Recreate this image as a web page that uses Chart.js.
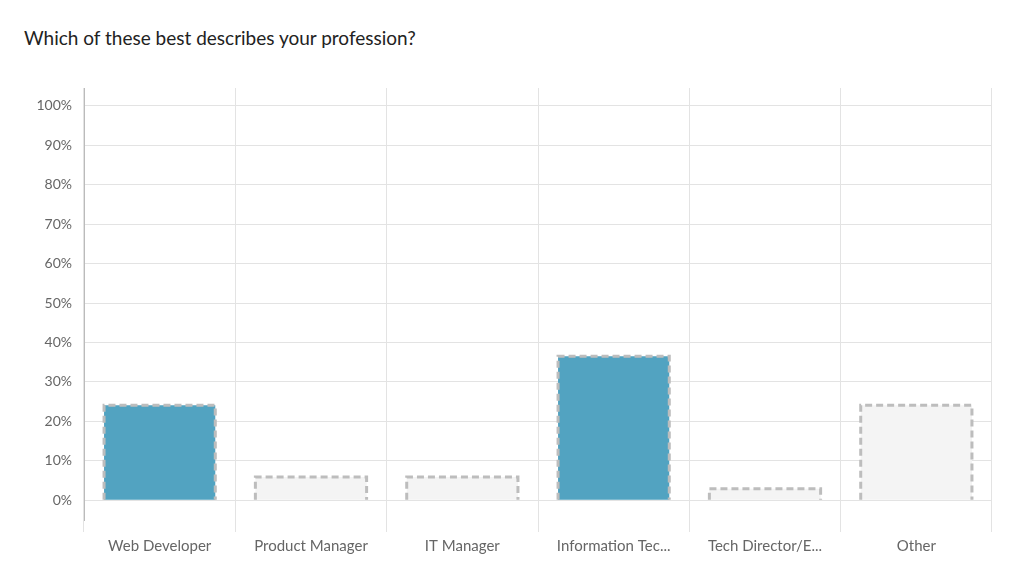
<!DOCTYPE html>
<html><head><meta charset="utf-8">
<script src="https://cdn.jsdelivr.net/npm/chart.js@4"></script>
<style>html,body{margin:0;background:#fff;}#w{position:relative;width:1024px;height:572px;}
#t{position:absolute;left:24px;top:26px;font:19px Lato,"Open Sans",sans-serif;color:#222;}
canvas{position:absolute;left:0;top:0;}</style></head>
<body><div id="w"><div id="t">Which of these best describes your profession?</div><canvas id="c" width="1024" height="572"></canvas></div>
<script>
const categories=["Web Developer","Product Manager","IT Manager","Information Tec...","Tech Director/E...","Other"];
const values=[24.1,5.9,5.9,36.5,2.9,24.1];
const highlighted=[true,false,false,true,false,false];
const dashPlugin={id:'dash',afterDatasetsDraw(chart){
  const ctx=chart.ctx;ctx.save();ctx.setLineDash([7,4]);ctx.lineWidth=3;ctx.strokeStyle='#bdbdbd';
  chart.getDatasetMeta(0).data.forEach(b=>{const p=b.getProps(['x','y','base','width'],true);
    const l=p.x-p.width/2,r=p.x+p.width/2;ctx.beginPath();ctx.moveTo(l,p.base);ctx.lineTo(l,p.y);ctx.lineTo(r,p.y);ctx.lineTo(r,p.base);ctx.stroke();});
  ctx.restore();}};
new Chart(document.getElementById('c'),{type:'bar',
 data:{labels:categories,datasets:[{data:values,backgroundColor:highlighted.map(h=>h?'#52a3c1':'#f4f4f4'),borderWidth:0,barPercentage:0.735,categoryPercentage:1}]},
 options:{responsive:false,animation:false,layout:{padding:{left:10,right:32,top:88,bottom:0}},
  plugins:{legend:{display:false},tooltip:{enabled:false}},
  scales:{
   y:{min:-5,max:104.5,afterBuildTicks(a){a.ticks=[0,10,20,30,40,50,60,70,80,90,100].map(v=>({value:v}));},
      afterFit(a){a.width=74;},
      ticks:{callback:v=>v+'%',color:'#666',font:{family:'Lato',size:14},padding:12},
      grid:{color:'#e3e3e3',drawTicks:false},border:{color:'#bbb'}},
   x:{afterFit(a){a.height=52;},ticks:{color:'#666',font:{family:'Lato',size:15},padding:5},grid:{color:'#e3e3e3',offset:true,tickLength:12},border:{display:false}}
  }},plugins:[dashPlugin]});
</script></body></html>
